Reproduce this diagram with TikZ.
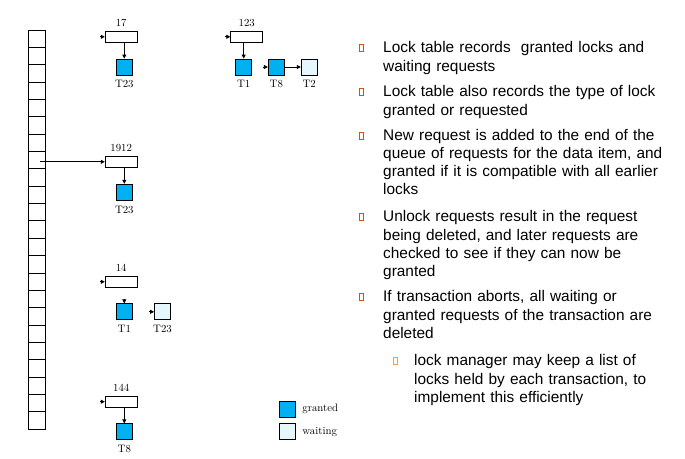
\documentclass[tikz,border=0pt]{standalone}
\usepackage{fontspec}
\newfontfamily\slidefont{Liberation Sans}
\usetikzlibrary{positioning,arrows.meta}
\definecolor{grantblue}{HTML}{00B0F0}
\definecolor{waitblue}{HTML}{E6F6FD}
\definecolor{bulred}{HTML}{E04B0E}
\definecolor{bulorange}{HTML}{F5A040}
\tikzset{
	cell/.style={draw, line width=0.8pt, minimum width=17pt, minimum height=17.35pt, inner sep=0pt},
	item/.style={draw, line width=0.8pt, minimum width=32pt, minimum height=11pt, inner sep=0pt},
	granted/.style={draw, line width=0.8pt, fill=grantblue, minimum size=16pt, inner sep=0pt},
	waiting/.style={draw, line width=0.8pt, fill=waitblue, minimum size=16pt, inner sep=0pt},
	lbl/.style={font=\fontsize{10.8}{12}\selectfont, inner sep=0pt},
	tip/.style={line width=0.8pt, -{Triangle[length=4pt,width=4pt]}},
	txt/.style={anchor=base west, inner sep=0pt, text width=300pt, align=left, font=\slidefont\fontsize{15.4}{18.3}\selectfont},
	bul/.style={line width=1.1pt},
}

\begin{document}
\begin{tikzpicture}[x=1pt, y=-1pt]
			%%%%% START %%%%%
			\useasboundingbox (0,0) rectangle (685,458);
			
			% lock table
			\foreach \i in {0,...,22}
				\node[cell] (c\i) at (36.5, {38.7+\i*17.35}) {};
			
			% data items
			\node[item] (d17) at (121.2, 36.8) {};
			\node[item] (d1912) at (121.2, 161.8) {};
			\node[item] (d14) at (121.2, 281.8) {};
			\node[item] (d144) at (121.2, 401.7) {};
			\node[item] (d123) at (246.7, 36.8) {};
			
			\node[lbl, above=4pt of d17] (n17) {17};
			\node[lbl, above=4pt of d1912] (n1912) {1912};
			\node[lbl, above=4pt of d14] (n14) {14};
			\node[lbl, above=4pt of d144] (n144) {144};
			\node[lbl, above=4pt of d123] (n123) {123};
			
			% requests
			\node[granted] (t17) at (124.3, 67) {};
			\node[granted] (t1912) at (124.3, 192.2) {};
			\node[granted] (t14a) at (124.3, 311.8) {};
			\node[waiting] (t14b) at (162.5, 311.8) {};
			\node[granted] (t144) at (124.3, 431.8) {};
			\node[granted] (t123a) at (243.7, 67) {};
			\node[granted] (t123b) at (276.3, 67) {};
			\node[waiting] (t123c) at (309.2, 67) {};
			
			\node[lbl, below=5pt of t17] (l17) {T23};
			\node[lbl, below=5pt of t1912] (l1912) {T23};
			\node[lbl, below=5pt of t14a] (l14a) {T1};
			\node[lbl, below=5pt of t14b] (l14b) {T23};
			\node[lbl, below=5pt of t144] (l144) {T8};
			\node[lbl, below=5pt of t123a] (l123a) {T1};
			\node[lbl, below=5pt of t123b] (l123b) {T8};
			\node[lbl, below=5pt of t123c] (l123c) {T2};
			
			% arrows
			\coordinate (src) at (40, 161.8);
			\coordinate (s17) at (100, 36.8);
			\coordinate (s14) at (100, 281.8);
			\coordinate (s144) at (100, 401.7);
			\coordinate (s123) at (225, 36.8);
			\coordinate (s14a) at (124.3, 299);
			\coordinate (s14b) at (149, 311.8);
			\coordinate (s123b) at (263.3, 67);
			
			\draw[tip] (src) -- (d1912.west);
			\draw[tip] (s17) -- (d17.west);
			\draw[tip] (s14) -- (d14.west);
			\draw[tip] (s144) -- (d144.west);
			\draw[tip] (s123) -- (d123.west);
			\draw[tip] (t17.north |- d17.south) -- (t17.north);
			\draw[tip] (t1912.north |- d1912.south) -- (t1912.north);
			\draw[tip] (t144.north |- d144.south) -- (t144.north);
			\draw[tip] (t123a.north |- d123.south) -- (t123a.north);
			\draw[tip] (s14a) -- (t14a.north);
			\draw[tip] (s14b) -- (t14b.west);
			\draw[tip] (s123b) -- (t123b.west);
			\draw[tip] (t123b.east) -- (t123c.west);
			
			% legend
			\node[granted] (lg) at (287.3, 409.3) {};
			\node[waiting] (lw) at (287.3, 431.7) {};
			\node[lbl, right=6.5pt of lg] (lgt) {granted};
			\node[lbl, right=6.5pt of lw] (lwt) {waiting};
			
			% bullet text
			\draw[bul, draw=bulred] (359.5, 44.5) rectangle (363.5, 51.5);
			\node[txt] (b1) at (383, 52.7) {Lock table records~ granted locks and\\waiting requests};
			\draw[bul, draw=bulred] (359.5, 88.5) rectangle (363.5, 95.5);
			\node[txt] (b2) at (383, 96.7) {Lock table also records the type of lock\\granted or requested};
			\draw[bul, draw=bulred] (359.5, 132.5) rectangle (363.5, 139.5);
			\node[txt] (b3) at (383, 140) {New request is added to the end of the\\queue of requests for the data item, and\\granted if it is compatible with all earlier\\locks};
			\draw[bul, draw=bulred] (359.5, 213.5) rectangle (363.5, 220.5);
			\node[txt] (b4) at (383, 221.7) {Unlock requests result in the request\\being deleted, and later requests are\\checked to see if they can now be\\granted};
			\draw[bul, draw=bulred] (359.5, 293.5) rectangle (363.5, 300.5);
			\node[txt] (b5) at (383, 301.7) {If transaction aborts, all waiting or\\granted requests of the transaction are\\deleted};
			\draw[bul, draw=bulorange, line width=1.3pt] (393.5, 357.5) rectangle (397.5, 364.5);
			\node[txt] (b6) at (414, 365.7) {lock manager may keep a list of\\locks held by each transaction, to\\implement this efficiently};
			
			%%%%% END %%%%%
		\end{tikzpicture}
\end{document}
